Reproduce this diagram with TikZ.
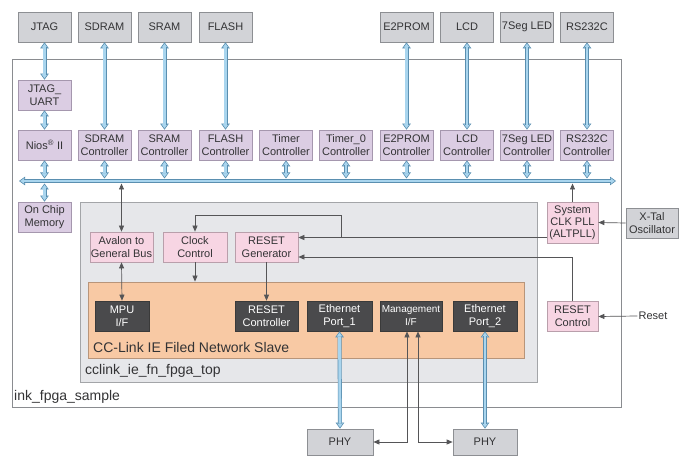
\documentclass[tikz,border=0pt]{standalone}
\usepackage{fontspec}
\setmainfont{Liberation Sans}
\usetikzlibrary{arrows.meta}
\definecolor{txt}{HTML}{333335}
\definecolor{gfill}{HTML}{D2D3D7}
\definecolor{gdraw}{HTML}{8D8F93}
\definecolor{pfill}{HTML}{DBCDE3}
\definecolor{pdraw}{HTML}{A597AE}
\definecolor{kfill}{HTML}{F7D5E3}
\definecolor{kdraw}{HTML}{B99FAB}
\definecolor{ofill}{HTML}{F8C9A4}
\definecolor{odraw}{HTML}{B8957A}
\definecolor{dfill}{HTML}{4A4A4C}
\definecolor{ddraw}{HTML}{3A3A3A}
\definecolor{rfill}{HTML}{E6E7EA}
\definecolor{rdraw}{HTML}{A3A5A8}
\definecolor{odr}{HTML}{8A8C90}
\definecolor{bfill}{HTML}{A9D5EE}
\definecolor{bdark}{HTML}{5A8FB0}
\definecolor{tdark}{HTML}{555557}
\tikzset{
  btip/.tip={Triangle[width=8.5pt,length=6pt,fill=bfill]},
  ttip/.tip={Triangle[width=5pt,length=6pt]},
  box/.style={draw, line width=0.7pt, minimum width=53pt, minimum height=30pt, inner sep=0pt,
    align=center, font=\fontsize{11}{13}\selectfont, text=txt},
  gbox/.style={box, fill=gfill, draw=gdraw},
  pbox/.style={box, fill=pfill, draw=pdraw},
  kbox/.style={box, fill=kfill, draw=kdraw},
  dbox/.style={box, fill=dfill, draw=ddraw, text=white},
  region/.style={draw, line width=0.8pt, inner sep=0pt},
  lbl/.style={anchor=west, inner sep=0pt, text=txt, font=\fontsize{14}{16}\selectfont},
  bline/.style={draw=bdark, line width=0.6pt, btip-btip},
  bshaft/.style={draw=bdark, line width=0.6pt, double=bfill, double distance=2.8pt,
    shorten <=5pt, shorten >=5pt},
  tline/.style={draw=tdark, line width=0.7pt},
}
\newcommand\barr[2]{\draw[bline] #1 -- #2; \draw[bshaft] #1 -- #2;}
\begin{document}
\begin{tikzpicture}[x=1pt,y=-1pt]
\useasboundingbox (0,0) rectangle (688,457);
% regions
\node[region, draw=odr, fill=white, minimum width=609pt, minimum height=348pt] (outer) at (316.5,233) {};
\node[region, draw=rdraw, fill=rfill, minimum width=457pt, minimum height=180pt] (top) at (308.5,292) {};
\node[region, draw=odraw, fill=ofill, minimum width=436pt, minimum height=76pt] (slave) at (306,320) {};
\node[lbl] (lblslave) at (93,347) {CC-Link IE Filed Network Slave};
\node[lbl] (lbltop) at (85,371) {cclink\_ie\_fn\_fpga\_top};
\node[lbl] (lblouter) at (14,397) {ink\_fpga\_sample};
% top row
\node[gbox] (jtag) at (44.5,27) {JTAG};
\node[gbox] (sdram) at (104.5,27) {SDRAM};
\node[gbox] (sram) at (164.5,27) {SRAM};
\node[gbox] (flash) at (225.5,27) {FLASH};
\node[gbox] (e2prom) at (406.5,27) {E2PROM};
\node[gbox] (lcd) at (467,27) {LCD};
\node[gbox] (seg) at (527,27) {7Seg LED};
\node[gbox] (rs) at (587,27) {RS232C};
% qsys components
\node[pbox] (uart) at (44.5,95) {JTAG\_\\UART};
\node[pbox] (nios) at (44.5,145) {Nios\textsuperscript{\textregistered} II};
\node[pbox] (sdramc) at (104.5,145) {SDRAM\\Controller};
\node[pbox] (sramc) at (164.5,145) {SRAM\\Controller};
\node[pbox] (flashc) at (225.5,145) {FLASH\\Controller};
\node[pbox] (timerc) at (286,145) {Timer\\Controller};
\node[pbox] (timer0c) at (346,145) {Timer\_0\\Controller};
\node[pbox] (e2c) at (406.5,145) {E2PROM\\Controller};
\node[pbox] (lcdc) at (467,145) {LCD\\Controller};
\node[pbox] (segc) at (527,145) {7Seg LED\\Controller};
\node[pbox] (rsc) at (587,145) {RS232C\\Controller};
\node[pbox] (ocm) at (44.5,217) {On Chip\\Memory};
% cclink top
\node[kbox, minimum width=63pt] (aval) at (121.5,247) {Avalon to\\General Bus};
\node[kbox, minimum width=64pt] (clk) at (195,247) {Clock\\Control};
\node[kbox, minimum width=63pt] (rgen) at (266.5,247) {RESET\\Generator};
\node[dbox, minimum width=54pt] (mpu) at (122,316) {MPU\\I/F};
\node[dbox, minimum width=63pt] (rctl) at (266.5,316) {RESET\\Controller};
\node[dbox, minimum width=65pt] (eth1) at (339.5,316) {Ethernet\\Port\_1};
\node[dbox, minimum width=62pt, font=\fontsize{10}{13}\selectfont] (mgmt) at (411,316) {Management\\I/F};
\node[dbox, minimum width=64pt] (eth2) at (485,316) {Ethernet\\Port\_2};
% right side
\node[kbox, minimum width=51pt, minimum height=41pt, font=\fontsize{11}{12}\selectfont] (pll) at (572.5,222.5) {System\\CLK PLL\\(ALTPLL)};
\node[gbox, minimum width=52pt] (xtal) at (652,223) {X-Tal\\Oscillator};
\node[kbox, minimum width=51pt] (rcon) at (572.5,316.5) {RESET\\Control};
\node[inner sep=1pt, text=txt, font=\fontsize{11}{13}\selectfont] (resetin) at (653,316) {Reset};
\node[gbox, minimum width=66pt, minimum height=26pt] (phy1) at (340,442) {PHY};
\node[gbox, minimum width=64pt, minimum height=26pt] (phy2) at (485,442) {PHY};
% bus coordinates
\coordinate (busL) at (19,181);
\coordinate (busR) at (616,181);
\coordinate (busT) at (19,178.5);
\coordinate (busB) at (19,183.5);
% blue connectors
\barr{(busL)}{(busR)}
\barr{(jtag.south)}{(uart.north)}
\barr{(uart.south)}{(nios.north)}
\barr{(nios.south)}{(nios.south |- busT)}
\barr{(ocm.north |- busB)}{(ocm.north)}
\foreach \c in {sdramc,sramc,flashc,timerc,timer0c,e2c,lcdc,segc,rsc}{
  \barr{(\c.south)}{(\c.south |- busT)}
}
\barr{(sdram.south)}{(sdramc.north)}
\barr{(sram.south)}{(sramc.north)}
\barr{(flash.south)}{(flashc.north)}
\barr{(e2prom.south)}{(e2c.north)}
\barr{(lcd.south)}{(lcdc.north)}
\barr{(seg.south)}{(segc.north)}
\barr{(rs.south)}{(rsc.north)}
\barr{(eth1.south)}{(phy1.north)}
\barr{(eth2.south)}{(phy2.north)}
% thin connectors
\draw[tline, ttip-ttip] (aval.north) -- (aval.north |- busB);
\draw[tline, ttip-ttip] (aval.south) -- (mpu.north);
\draw[tline, -ttip] (clk.south) -- (clk.south |- slave.north);
\draw[tline, -ttip] (rgen.south) -- (rctl.north);
\draw[tline, -ttip] (pll.north) -- (pll.north |- busB);
\draw[tline, -ttip] (xtal.west) -- (pll.east);
\draw[tline, -ttip] (resetin.west) -- (rcon.east);
\coordinate (pllout) at ([yshift=-15pt]pll.west);
\coordinate (clkjn) at (341,237.5);
\draw[tline, -ttip] (pllout) -- (pllout -| rgen.east);
\draw[tline, -ttip] (clkjn) -- ++(0,-22.5) -| (clk.north);
\draw[tline, -ttip] (rcon.north) |- ([yshift=-10pt]rgen.east);
\draw[tline, ttip-ttip] ([xshift=-4pt]mgmt.south) |- (phy1.east);
\draw[tline, ttip-ttip] ([xshift=7pt]mgmt.south) |- (phy2.west);
\end{tikzpicture}
\end{document}
